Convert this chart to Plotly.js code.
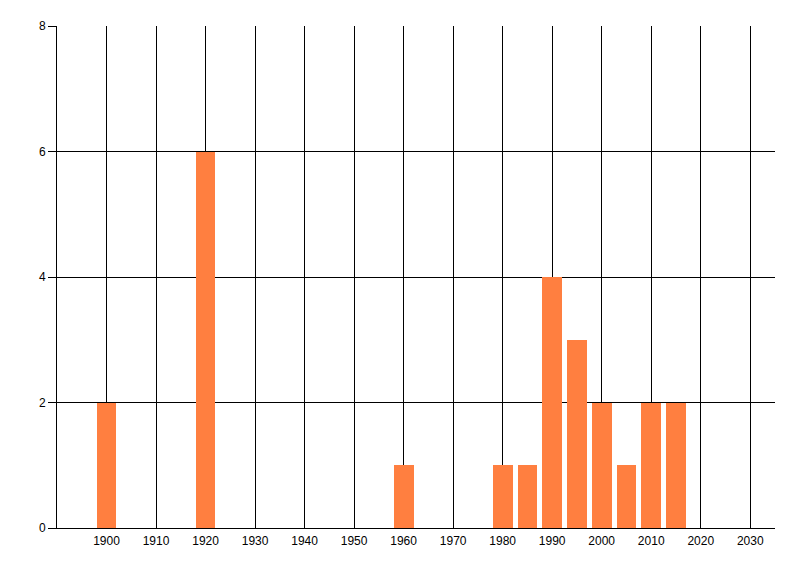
<!DOCTYPE html>
<html>
<head>
<meta charset="utf-8">
<script src="https://cdn.plot.ly/plotly-3.0.1.min.js"></script>
<style>html,body{margin:0;padding:0;background:#fff;}#chart{width:800px;height:576px;}</style>
</head>
<body>
<div id="chart"></div>
<script>
const years = [1900, 1920, 1960, 1980, 1985, 1990, 1995, 2000, 2005, 2010, 2015];
const counts = [2, 6, 1, 1, 1, 4, 3, 2, 1, 2, 2];
const xTicks = [1900, 1910, 1920, 1930, 1940, 1950, 1960, 1970, 1980, 1990, 2000, 2010, 2020, 2030];
const yTicks = [0, 2, 4, 6, 8];

const FONT = 'Liberation Sans Narrow, Liberation Sans, Arial, sans-serif';

const trace = {
  type: 'bar',
  x: years,
  y: counts,
  width: 4,
  marker: {color: '#FF7F40', line: {width: 0}},
  hoverinfo: 'x+y'
};

const layout = {
  width: 800,
  height: 576,
  margin: {l: 57, r: 25, t: 26, b: 48},
  paper_bgcolor: '#ffffff',
  plot_bgcolor: '#ffffff',
  showlegend: false,
  font: {family: FONT, size: 12, color: '#000'},
  xaxis: {
    range: [1890, 2035],
    tickmode: 'array',
    tickvals: xTicks,
    ticktext: xTicks.map(String),
    showgrid: true,
    gridcolor: '#000',
    gridwidth: 1,
    zeroline: false,
    showline: true,
    linecolor: '#000',
    linewidth: 1,
    ticks: '',
    ticklabelstandoff: 2,
    tickfont: {family: FONT, size: 12, color: '#000'}
  },
  yaxis: {
    range: [0, 8],
    tickmode: 'array',
    tickvals: yTicks,
    ticktext: yTicks.map(String),
    showgrid: true,
    gridcolor: '#000',
    gridwidth: 1,
    zeroline: false,
    showline: true,
    linecolor: '#000',
    linewidth: 1,
    ticks: 'outside',
    ticklen: 8,
    tickcolor: '#000',
    tickwidth: 1,
    tickfont: {family: FONT, size: 12, color: '#000'}
  },
  bargap: 0
};

Plotly.newPlot('chart', [trace], layout, {displayModeBar: false, staticPlot: true});
</script>
</body>
</html>
